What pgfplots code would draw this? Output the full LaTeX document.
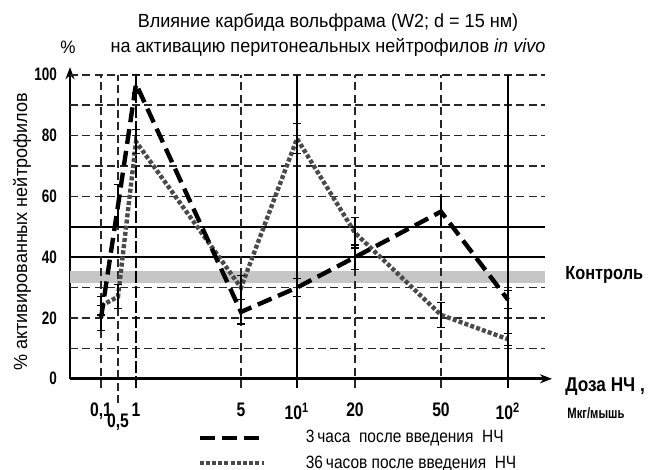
\documentclass[border=0pt]{standalone}
\usepackage{fontspec}
\setmainfont{Liberation Sans}
\newfontfamily\cnd[FakeStretch=0.75]{Liberation Sans}
\newfontfamily\xcn[FakeStretch=0.8]{Liberation Sans}
\newfontfamily\lgd[FakeStretch=0.87]{Liberation Sans}
\newfontfamily\bnd[FakeStretch=0.86]{Liberation Sans}
\newfontfamily\nrw[FakeStretch=0.95]{Liberation Sans}
\usepackage{pgfplots}
\pgfplotsset{compat=1.18}
\usetikzlibrary{arrows.meta}
\definecolor{dotgray}{HTML}{4A4A4A}
\definecolor{bandgray}{HTML}{C6C6C6}
\definecolor{gridk}{HTML}{262626}
\tikzset{
  thin grid/.style={draw=gridk,line width=0.75pt,dash pattern=on 4pt off 2.2pt},
  thick grid/.style={draw=black,line width=1.1pt},
  tl/.style={font=\cnd\bfseries\fontsize{9}{10}\selectfont},
  xl/.style={font=\xcn\bfseries\fontsize{9.8}{10}\selectfont},
}

\begin{document}
\begin{tikzpicture}
\path[use as bounding box] (-35pt,-45.6pt) rectangle (289.5pt,189.4pt);
\begin{axis}[
  anchor=south west, at={(0pt,0pt)},
  x=0.5pt, y=1.52pt,
  xmin=0, xmax=482, ymin=0, ymax=102.5,
  axis lines=left,
  axis line style={line width=1.4pt,-{Stealth[length=6pt,width=4.5pt]}},
  major tick length=0pt,
  xtick={31,66,171,227,285,371,438},
  xticklabels={{0{,}1},1,5,10\textsuperscript{1},20,50,10\textsuperscript{2}},
  extra x ticks={48},
  extra x tick labels={{0{,}5}},
  extra x tick style={xticklabel style={yshift=-5.5pt}},
  xticklabel style={xl,yshift=-8.5pt},
  ytick={0,20,...,100},
  yticklabel style={tl,xshift=-3pt},
  /pgf/number format/assume math mode=true,
  clip=false,
  title={Влияние карбида вольфрама (W2; d = 15 нм)\\на активацию перитонеальных нейтрофилов \textit{in vivo}},
  title style={at={(axis cs:258,109.3)},anchor=center,align=center,
               font=\nrw\fontsize{9.5}{12.5}\selectfont},
  ylabel={\% активированных нейтрофилов},
  ylabel style={at={(axis cs:-48,48.3)},anchor=center,
                font=\nrw\fontsize{9.5}{10}\selectfont},
  reverse legend,
  legend cell align=left,
  legend image code/.code={\draw[#1] (0pt,0pt) -- (32pt,0pt);},
  legend style={at={(axis description cs:0.2635,-0.152)},anchor=north west,
                draw=none,fill=none,inner sep=0pt,row sep=0.8pt,
                font=\lgd\fontsize{8.9}{10}\selectfont,
                /tikz/every odd column/.append style={column sep=18pt}},
]
% control band
\addplot[fill=bandgray,draw=none,forget plot] coordinates {(0,31.5) (475,31.5) (475,35.6) (0,35.6)} -- cycle;
% horizontal grid
\draw[thin grid] (0,10) -- (475,10);
\draw[thin grid] (0,20) -- (475,20);
\draw[thin grid] (0,30) -- (475,30);
\draw[thin grid] (0,60) -- (475,60);
\draw[thin grid] (0,70) -- (475,70);
\draw[thin grid] (0,80) -- (475,80);
\draw[thin grid] (0,90) -- (475,90);
\draw[thin grid] (0,100) -- (475,100);
\draw[thick grid] (0,40) -- (475,40);
\draw[thick grid] (0,50) -- (475,50);
% vertical grid
\draw[thin grid] (31,-3) -- (31,100);
\draw[thin grid] (48,-8) -- (48,100);
\draw[thin grid] (171,-3) -- (171,100);
\draw[thin grid] (285,-3) -- (285,100);
\draw[thin grid] (371,-3) -- (371,100);
\draw[thick grid,dash pattern=on 6pt off 1.5pt] (66,-3) -- (66,100);
\draw[thick grid] (227,-3) -- (227,100);
\draw[thick grid] (438,-3) -- (438,100);

% 36 hours
\addplot[dotgray,line width=2.2pt,dash pattern=on 2pt off 1.1pt,
  error bars/.cd,y dir=both,y explicit,
  error bar style={solid,black,line width=0.6pt},
  error mark options={solid,black,rotate=90,mark size=2pt,line width=0.6pt}]
  coordinates {
  (31,24) +- (0,3)
  (48,27) +- (0,4)
  (66,78) +- (0,4)
  (171,30) +- (0,4)
  (227,79) +- (0,5)
  (285,48) +- (0,5)
  (371,21) +- (0,4)
  (438,13) +- (0,2)
};
\addlegendentry{36\,часов после введения\ \ НЧ}
% 3 hours
\addplot[black,line width=2.2pt,dash pattern=on 7.5pt off 3.5pt,
  error bars/.cd,y dir=both,y explicit,
  error bar style={solid,black,line width=0.6pt},
  error mark options={solid,black,rotate=90,mark size=2pt,line width=0.6pt}]
  coordinates {
  (31,20) +- (0,4)
  (48,57) +- (0,7)
  (66,97) +- (0,3)
  (171,22) +- (0,4)
  (227,30) +- (0,3)
  (285,40) +- (0,4)
  (371,55) +- (0,5)
  (438,26) +- (0,3)
};
\addlegendentry{3\,часа\ \ после введения\ \ НЧ}

\node[font=\nrw\fontsize{9}{10}\selectfont] at (-2,109.1) {\%};
\node[anchor=west,inner sep=0pt,font=\bnd\bfseries\fontsize{9.5}{10}\selectfont] at (495,34.1) {Контроль};
\node[anchor=west,inner sep=0pt,font=\bnd\bfseries\fontsize{10}{11}\selectfont] at (495,-2.7) {Доза НЧ ,};
\node[anchor=west,inner sep=0pt,font=\cnd\bfseries\fontsize{7.5}{8}\selectfont] at (497,-11.25) {Мкг/мышь};
\end{axis}
\end{tikzpicture}
\end{document}
